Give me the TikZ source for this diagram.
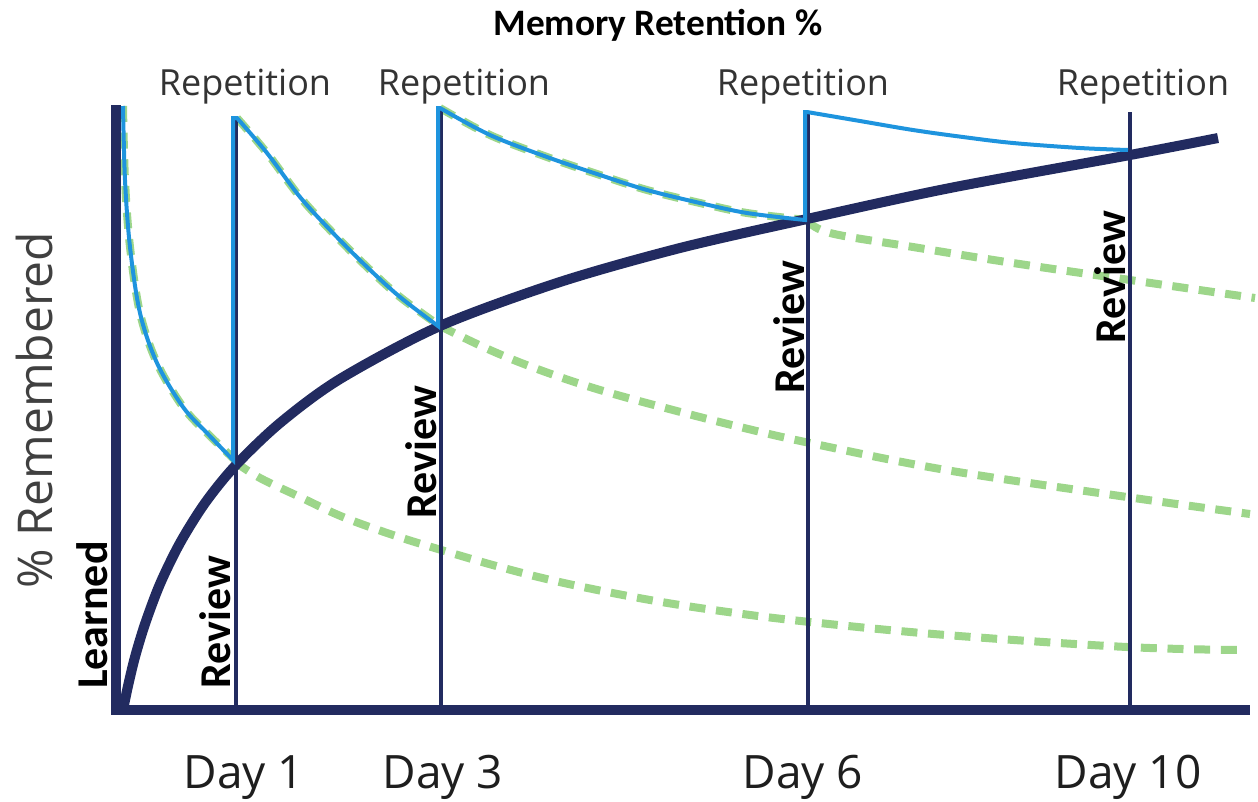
\documentclass[tikz,border=0pt]{standalone}
\usepackage{fontspec}
\setmainfont{Open Sans}
\newfontfamily\calfont{Carlito}
\definecolor{navy}{RGB}{34,43,96}
\definecolor{fblue}{RGB}{30,148,222}
\definecolor{fgreen}{RGB}{157,214,138}
\definecolor{reptext}{RGB}{51,51,51}
\definecolor{daytext}{RGB}{30,30,30}
\definecolor{ytext}{RGB}{64,64,64}
\begin{document}
\begin{tikzpicture}[x=0.75pt,y=-0.75pt,
  axisline/.style={draw=navy,line width=7.5pt},
  reviewline/.style={draw=navy,line width=2.4pt},
  learncurve/.style={draw=navy,line width=7.5pt},
  forgetcurve/.style={draw=fblue,line width=3pt,line join=miter},
  fadecurve/.style={draw=fgreen,line width=6pt,dash pattern=on 12pt off 8pt},
  titletext/.style={font=\calfont\bfseries\fontsize{28pt}{28pt}\selectfont,anchor=base,inner sep=0pt},
  reptextstyle/.style={font=\fontsize{27pt}{27pt}\selectfont,text=reptext,anchor=base,inner sep=0pt},
  daytextstyle/.style={font=\fontsize{34.5pt}{34.5pt}\selectfont,text=daytext,anchor=base,inner sep=0pt},
  reviewtext/.style={font=\calfont\bfseries\fontsize{33pt}{33pt}\selectfont,rotate=90,anchor=base,inner sep=0pt},
  ytextstyle/.style={font=\fontsize{36pt}{36pt}\selectfont,text=ytext,rotate=90,anchor=base,inner sep=0pt}
]
\useasboundingbox (0,0) rectangle (1258,801);

% faded (forgotten) curves
\draw[fadecurve] plot[smooth,tension=0.55] coordinates {(123,106) (125,180) (130,247) (140,313) (157,363) (183,407) (207,433) (235,460)};
\draw[fadecurve] plot[smooth,tension=0.6] coordinates {(235,462) (260,478) (300,497) (343,517) (393,535) (438,549) (500,567) (564,583) (650,600) (728,612) (810,622) (946,635) (1127,647) (1240,650)};
\draw[fadecurve] plot[smooth,tension=0.55] coordinates {(237,118) (267,153) (300,197) (333,233) (367,267) (400,297) (440,326)};
\draw[fadecurve] plot[smooth,tension=0.6] coordinates {(440,326) (490,350) (540,370) (600,390) (673,410) (740,427) (810,443) (946,470) (1127,497) (1250,514)};
\draw[fadecurve] plot[smooth,tension=0.55] coordinates {(440,108) (490,135) (547,157) (600,175) (647,190) (700,203) (747,213) (807,220)};
\draw[fadecurve] plot[smooth,tension=0.6] coordinates {(807,220) (830,233) (913,247) (1013,263) (1130,280) (1255,298)};

% review lines
\draw[reviewline] (236,118) -- (236,710);
\draw[reviewline] (441,108) -- (441,710);
\draw[reviewline] (808,112) -- (808,710);
\draw[reviewline] (1130,112) -- (1130,710);

% learning curve
\draw[learncurve] plot[smooth,tension=0.5] coordinates {(123,710) (128,686) (135,657) (145,624) (160,584) (180,543) (205,503) (235,466) (280,423) (340,379) (440,326) (560,282) (680,248) (807,219) (950,188) (1130,155) (1218,138)};

% retention with repetition
\draw[forgetcurve] plot[smooth,tension=0.55] coordinates {(123,106) (125,180) (130,247) (140,313) (157,363) (183,407) (207,433) (233,460)}
  -- (233,118)
  -- plot[smooth,tension=0.55] coordinates {(237,118) (267,153) (300,197) (333,233) (367,267) (400,297) (438,326)}
  -- (438,108)
  -- plot[smooth,tension=0.55] coordinates {(440,108) (490,135) (547,157) (600,175) (647,190) (700,203) (747,213) (805,220)}
  -- (805,112)
  -- plot[smooth,tension=0.55] coordinates {(807,112) (860,121) (913,130) (963,137) (1013,143) (1080,148) (1128,150)};

% axes
\draw[axisline] (116,105) -- (116,715);
\draw[axisline] (111,710) -- (1250,710);

% texts
\node[titletext] (title) at (658,35) {Memory Retention \%};
\node[reptextstyle] (rep1) at (245,95) {Repetition};
\node[reptextstyle] (rep2) at (464,95) {Repetition};
\node[reptextstyle] (rep3) at (803,95) {Repetition};
\node[reptextstyle] (rep4) at (1143,95) {Repetition};
\node[daytextstyle] (day1) at (244,788) {Day 1};
\node[daytextstyle] (day3) at (443,788) {Day 3};
\node[daytextstyle] (day6) at (803,788) {Day 6};
\node[daytextstyle] (day10) at (1128,788) {Day 10};
\node[reviewtext] (rev1) at (230,622) {Review};
\node[reviewtext] (rev2) at (436,452) {Review};
\node[reviewtext] (rev3) at (804,327) {Review};
\node[reviewtext] (rev4) at (1125,277) {Review};
\node[reviewtext] (learned) at (107,615) {Learned};
\node[ytextstyle] (ylabel) at (52,410) {\% Remembered};
\end{tikzpicture}
\end{document}
